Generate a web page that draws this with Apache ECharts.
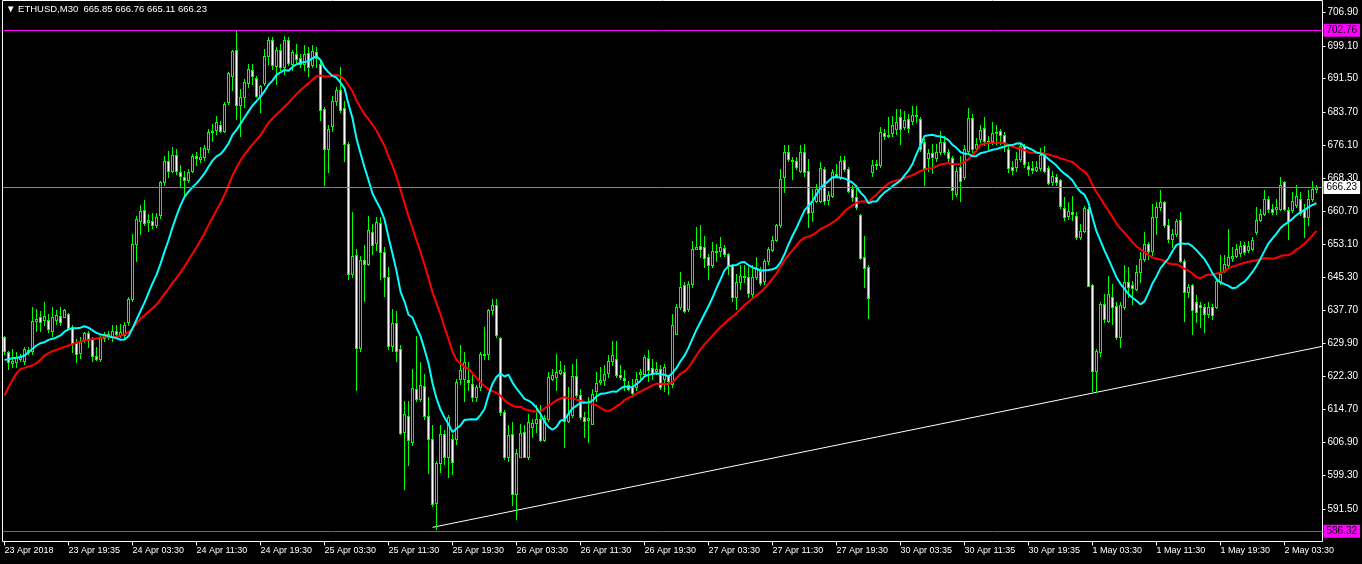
<!DOCTYPE html>
<html><head><meta charset="utf-8">
<script src="https://cdn.jsdelivr.net/npm/echarts@6/dist/echarts.min.js"></script>
<style>html,body{margin:0;padding:0;background:#000;}#c{width:1362px;height:564px;}</style>
</head><body><div id="c"></div>
<script>
const symbolName = 'ETHUSD,M30';
const tickLabels = ['23 Apr 2018','23 Apr 19:35','24 Apr 03:30','24 Apr 11:30','24 Apr 19:30','25 Apr 03:30','25 Apr 11:30','25 Apr 19:30','26 Apr 03:30','26 Apr 11:30','26 Apr 19:30','27 Apr 03:30','27 Apr 11:30','27 Apr 19:30','30 Apr 03:35','30 Apr 11:35','30 Apr 19:35','1 May 03:30','1 May 11:30','1 May 19:30','2 May 03:30'];
const priceTicks = [706.90,699.10,691.50,683.70,676.10,668.30,660.70,653.10,645.30,637.70,629.90,622.30,614.70,606.90,599.30,591.50,583.90];

const open = [
631.41,628.08,625.37,625.60,626.38,625.99,628.47,628.31,635.06,636.22,
635.52,635.52,632.96,635.44,636.45,636.22,636.84,633.74,630.02,627.69,
630.79,632.34,631.03,627.15,626.38,631.26,631.41,631.57,632.96,632.03,
632.03,634.90,640.33,653.11,658.54,661.02,658.15,658.54,657.38,659.86,
667.45,672.49,670.01,673.88,669.78,668.61,667.99,670.01,673.65,672.88,
673.42,675.20,679.08,679.62,680.63,679.46,686.05,692.25,698.07,685.28,
687.37,690.47,693.42,691.71,687.60,690.47,696.90,700.55,694.42,698.22,
694.19,700.55,694.97,697.29,696.36,694.97,697.45,694.58,697.68,694.97,
684.50,675.20,680.40,686.29,688.77,684.74,676.37,646.14,650.56,628.93,
649.39,648.47,655.83,653.27,658.00,651.33,645.52,629.25,634.75,628.70,
609.33,613.05,607.00,619.40,617.08,620.02,613.20,607.78,592.82,602.12,
608.94,603.52,607.78,607.78,621.73,621.73,621.50,620.57,617.62,619.79,
627.16,627.54,637.77,639.01,631.26,613.98,603.52,608.79,594.99,603.52,
609.33,603.52,610.49,611.42,612.43,607.55,612.43,621.73,622.12,623.05,
623.28,612.04,613.21,622.35,617.86,612.82,612.05,611.27,618.86,620.96,
621.50,623.05,625.84,626.38,622.51,621.96,620.18,619.79,619.79,622.89,
622.89,626.61,624.29,623.51,624.06,621.73,622.50,620.56,632.19,638.39,
643.66,638.00,643.81,651.95,652.57,652.49,650.17,648.31,651.18,651.41,
652.18,650.79,648.08,640.71,644.20,645.75,645.36,641.49,645.36,646.91,
644.59,649.24,651.72,654.04,657.38,668.61,674.43,672.64,672.49,670.16,
674.43,670.16,660.48,663.19,663.19,670.55,663.34,664.35,669.39,668.77,
672.64,670.55,665.90,664.12,659.93,650.01,647.84,669.78,671.71,671.33,
678.92,678.45,678.92,679.85,682.56,680.24,682.17,681.79,683.10,682.17,
676.75,673.03,674.27,673.03,674.58,676.75,674.42,673.11,664.74,670.94,
668.61,674.81,682.41,675.36,677.53,680.08,676.75,677.14,678.92,679.46,
678.45,675.20,670.94,670.94,672.88,675.97,671.17,670.70,670.39,670.70,
674.04,670.70,667.45,668.61,668.07,661.48,659.54,660.48,659.70,654.66,
656.21,661.25,643.58,623.66,627.92,639.16,635.29,640.72,638.55,631.42,
638.39,644.20,643.43,642.65,646.53,649.63,653.12,651.41,659.32,661.64,
662.80,657.61,654.28,655.44,658.70,649.24,641.88,643.43,639.56,638.78,
638.39,636.84,638.39,638.39,644.20,646.92,648.31,649.86,650.40,650.95,
652.73,651.57,651.96,655.83,658.70,660.09,663.58,661.26,661.26,661.26,
667.45,661.02,661.02,662.03,663.58,661.26,659.32,663.58,665.85];

const high = [
631.80,628.31,628.70,627.93,627.54,629.09,629.09,638.39,638.00,637.61,
639.55,636.84,638.39,637.77,638.39,638.00,636.99,634.13,631.03,631.41,
632.58,632.96,631.41,629.09,631.80,632.58,632.96,634.13,634.13,634.51,
634.90,640.71,655.44,659.70,662.03,663.42,660.09,660.24,660.24,667.84,
673.65,674.81,675.59,675.20,671.56,670.16,670.55,674.04,674.43,675.74,
675.98,679.85,681.01,682.95,681.79,686.05,693.03,698.07,702.72,689.15,
691.48,694.97,694.97,692.25,689.93,698.45,701.32,701.17,698.84,699.62,
701.55,701.32,698.07,699.62,697.29,699.23,698.84,699.23,698.84,695.74,
684.89,680.63,687.60,689.54,694.19,686.44,676.75,660.48,651.95,650.40,
652.73,659.70,657.77,659.47,659.31,652.34,647.69,638.00,637.61,629.48,
616.69,616.69,624.05,631.80,625.60,622.89,617.47,610.88,602.74,611.00,
609.72,613.21,608.94,621.73,629.48,627.93,625.61,622.51,620.41,627.93,
633.74,638.01,640.33,640.33,631.42,614.37,610.88,611.66,605.46,611.27,
610.88,613.59,612.43,615.53,615.53,613.21,623.28,624.06,627.54,625.99,
624.83,619.79,625.22,626.38,619.41,613.98,617.47,619.41,623.28,624.44,
624.83,627.16,630.64,630.64,624.83,623.67,621.34,621.73,623.28,624.06,
627.16,628.32,626.38,625.61,624.83,625.21,622.73,636.84,639.16,646.53,
644.20,644.59,653.89,656.99,657.61,655.05,650.79,653.50,653.11,654.82,
652.73,650.94,648.46,646.14,648.08,648.08,647.69,648.08,650.01,647.84,
649.63,652.34,655.05,657.76,670.55,675.98,675.98,673.27,673.27,675.98,
676.36,672.88,665.90,667.06,672.10,670.94,665.51,670.55,671.71,673.65,
673.65,670.94,666.68,666.68,660.09,655.05,648.08,672.64,672.64,680.24,
679.85,682.56,682.95,684.50,684.50,684.11,683.34,685.27,685.27,682.56,
677.52,675.20,676.36,676.36,679.46,678.30,675.20,673.65,670.94,673.65,
675.98,684.66,683.34,677.68,680.63,682.56,678.30,681.40,680.63,679.85,
679.08,675.98,672.49,674.42,676.36,676.36,672.10,672.49,672.49,675.35,
675.82,671.17,670.16,669.39,668.22,663.96,662.80,664.35,660.48,657.76,
662.02,661.64,643.81,628.70,639.55,641.49,645.75,643.82,639.56,639.56,
648.08,647.69,644.59,648.08,651.18,655.83,653.51,662.42,662.80,665.52,
663.19,658.93,656.61,658.93,660.48,649.63,643.82,643.82,641.11,639.56,
639.17,639.56,639.17,644.98,650.41,650.41,656.61,652.34,653.12,653.89,
653.51,653.74,654.67,661.64,661.26,665.52,664.35,662.42,663.58,668.62,
667.84,661.64,665.13,666.68,665.13,662.42,665.52,667.84,666.76];

const low = [
627.54,624.05,624.44,624.44,625.99,625.21,627.54,627.54,632.96,632.96,
634.13,632.58,631.80,634.51,634.13,636.06,633.35,627.93,625.60,626.61,
630.25,629.09,625.83,626.14,625.99,630.64,631.03,630.64,631.57,631.41,
631.03,634.13,639.94,649.24,655.44,657.61,656.21,656.83,656.99,659.16,
666.68,668.61,669.78,669.39,666.52,663.96,667.45,669.78,671.33,672.10,
672.64,674.43,677.14,678.69,679.08,679.08,685.67,688.77,682.18,678.30,
684.89,689.54,690.31,687.37,683.73,689.93,694.97,693.80,690.31,693.42,
692.64,694.58,693.42,694.97,694.19,693.42,692.25,694.19,694.19,681.95,
666.68,669.78,679.46,685.28,683.73,672.49,644.98,645.37,619.02,628.31,
639.94,648.08,650.79,651.57,644.98,641.10,628.70,628.31,625.83,608.94,
596.15,601.58,606.23,616.69,616.69,612.43,599.79,592.05,586.80,600.00,
601.97,598.87,599.64,606.62,620.57,616.69,619.02,616.69,616.69,619.02,
626.38,626.38,636.84,631.42,613.21,603.13,602.74,592.28,589.18,603.52,
603.52,603.13,608.17,609.33,607.39,607.39,612.04,621.50,619.02,622.89,
605.84,611.66,612.82,617.47,612.43,608.17,607.01,611.27,616.69,620.57,
620.18,622.12,624.83,622.12,621.73,619.02,619.02,618.09,619.02,621.34,
622.51,621.34,621.73,622.89,619.41,619.01,618.24,619.79,632.19,638.00,
637.23,637.61,643.04,651.80,650.01,647.69,644.98,647.69,649.24,650.40,
650.40,646.14,639.94,638.00,642.65,644.20,640.71,640.71,644.98,643.43,
643.81,648.46,651.56,653.89,656.99,665.13,672.49,668.23,670.55,669.78,
669.00,656.99,658.54,662.80,662.80,662.41,662.41,663.96,668.61,668.23,
670.16,665.13,663.19,661.25,649.63,643.04,635.91,669.00,670.55,670.94,
677.52,677.91,678.30,678.69,676.36,679.85,679.07,681.01,681.40,674.81,
666.83,670.16,669.62,672.49,674.04,674.04,672.49,663.57,664.35,663.19,
668.22,674.42,674.58,674.81,676.75,675.98,675.20,676.36,676.36,676.36,
674.81,669.93,669.39,670.16,672.49,670.94,669.15,669.62,670.16,670.39,
669.77,667.06,666.83,666.68,661.41,658.77,658.92,658.77,654.28,654.28,
655.83,643.27,619.01,618.62,627.15,634.91,634.91,634.52,631.03,629.09,
638.01,640.72,639.17,642.27,644.20,649.24,649.63,650.41,655.44,660.87,
656.99,653.50,652.34,655.05,648.85,635.29,640.72,632.19,634.91,633.74,
632.58,636.07,635.68,638.24,643.82,646.53,647.69,649.24,650.02,650.40,
650.79,651.18,651.57,655.44,658.54,659.71,660.48,660.09,660.09,661.02,
660.87,654.28,660.48,661.64,659.71,654.67,657.38,663.19,665.11];

const close = [
628.31,625.60,625.99,626.76,627.15,628.70,627.93,635.29,635.68,634.90,
636.45,633.35,636.06,636.68,634.90,637.77,633.58,630.02,627.54,630.64,
632.34,630.79,627.15,626.38,631.41,631.80,632.19,632.96,632.19,632.58,
634.36,640.33,653.11,658.93,660.86,657.92,658.69,657.38,659.31,667.45,
672.26,670.01,673.88,670.01,668.85,667.99,669.93,673.65,673.11,673.42,
675.36,679.08,679.46,681.40,679.46,685.67,692.80,697.91,685.28,687.37,
690.70,693.80,692.25,687.60,689.85,696.90,700.55,694.58,698.22,694.19,
700.55,695.12,697.68,696.13,694.97,697.29,694.19,697.91,696.36,684.27,
675.20,679.85,686.44,688.92,684.27,676.37,646.14,650.40,628.93,649.39,
648.47,656.22,652.73,658.15,651.18,645.37,629.25,634.75,628.31,609.10,
613.59,607.55,619.64,617.08,620.33,613.05,607.78,592.66,602.12,609.00,
603.52,612.82,602.36,620.96,623.67,625.61,620.96,617.62,619.79,627.39,
627.54,637.62,639.01,631.81,613.98,603.52,608.56,594.99,604.53,609.10,
603.52,611.66,611.50,612.43,607.55,612.66,622.12,622.51,623.28,623.82,
612.04,613.59,622.35,617.86,612.82,611.89,612.66,618.24,620.80,621.50,
622.74,625.84,627.16,622.51,622.12,621.50,619.41,618.40,621.73,623.28,
626.77,623.67,622.89,624.06,619.79,624.44,621.34,634.13,638.39,643.04,
637.61,643.81,651.95,652.34,651.80,649.86,648.08,651.41,651.56,652.34,
650.79,648.08,640.71,644.20,645.75,645.36,641.64,645.52,647.30,643.97,
649.24,651.95,654.04,657.38,668.23,674.43,672.88,672.34,670.94,674.43,
669.78,660.24,662.80,665.90,670.78,663.19,664.51,669.78,669.00,672.49,
670.55,665.51,663.96,661.79,649.86,647.53,640.56,671.56,671.48,679.08,
678.14,678.14,680.78,681.40,679.85,682.02,680.00,683.10,682.95,675.20,
670.70,674.27,673.26,674.58,676.75,674.42,673.03,665.74,670.16,667.84,
675.20,682.41,675.05,676.36,679.69,676.91,677.14,678.92,679.23,678.45,
676.75,670.70,670.39,672.88,675.97,671.71,670.55,670.39,671.09,673.80,
670.16,667.29,669.00,667.60,661.87,659.31,660.86,660.09,654.66,656.21,
661.48,643.42,623.66,628.31,639.16,635.68,641.49,638.39,631.42,638.78,
644.20,643.04,642.89,646.53,649.63,653.12,651.41,659.32,661.64,662.80,
657.38,654.28,655.44,658.54,649.09,641.88,643.19,637.62,637.23,638.39,
636.84,638.39,636.46,644.59,646.14,648.47,650.17,650.40,651.96,652.50,
651.18,652.50,654.05,658.70,659.94,663.58,661.26,660.48,661.64,666.91,
661.26,658.39,663.19,664.35,660.24,659.32,663.58,665.91,666.23];

// Moving-average values before a full window exists
const fastSeed = [626.14,626.30,626.53,626.61,626.76,627.15,627.93,628.70,629.48,630.02,630.25,630.79,631.03];
const slowSeed = [617.85,619.79,621.49,623.04,624.05,624.28,624.60,624.83,625.37,626.14,627.15,627.70,628.16,628.47,628.78,629.17,629.48,629.79,630.10,630.33,630.64,630.79,630.95,631.10,631.26,631.41,631.49];
const fastPeriod = 14, slowPeriod = 28;

const levelPrices = [702.76, 586.32];
const trendAnchors = [[107, 587.2], [273, 618.6]];

function sma(period, seed) {
  const out = [];
  for (let i = 0; i < close.length; i++) {
    if (i < period - 1) { out.push(seed[i]); continue; }
    let s = 0;
    for (let j = i - period + 1; j <= i; j++) s += close[j];
    out.push(+(s / period).toFixed(3));
  }
  return out;
}

const N = close.length;
const nCat = N + 1;
const categories = Array.from({length: nCat}, (_, i) => (i % 16 === 0 && tickLabels[i / 16]) ? tickLabels[i / 16] : '');
const candleData = close.map((c, i) => [i, open[i], c, low[i], high[i]]);
const last = N - 1;
const bid = close[last];

const slope = (trendAnchors[1][1] - trendAnchors[0][1]) / (trendAnchors[1][0] - trendAnchors[0][0]);
const xEnd = nCat - 0.5;
const trendData = [trendAnchors[0], [xEnd, trendAnchors[0][1] + slope * (xEnd - trendAnchors[0][0])]];

const LIME = '#00ff00';
function renderCandle(params, api) {
  const i = api.value(0), o = api.value(1), c = api.value(2), l = api.value(3), h = api.value(4);
  const pO = api.coord([i, o]), pC = api.coord([i, c]);
  const yL = Math.round(api.coord([i, l])[1]), yH = Math.round(api.coord([i, h])[1]);
  const cx = Math.floor(pO[0]);
  const top = Math.round(Math.min(pO[1], pC[1])), bot = Math.round(Math.max(pO[1], pC[1]));
  const children = [
    {type: 'rect', shape: {x: cx, y: yH, width: 1, height: Math.max(1, yL - yH + 1)}, style: {fill: LIME}},
    {type: 'rect', shape: {x: cx - 1, y: top, width: 3, height: bot - top + 1}, style: {fill: LIME}}
  ];
  if (bot - top >= 2) {
    children.push({type: 'rect', shape: {x: cx, y: top + 1, width: 1, height: bot - top - 1}, style: {fill: c >= o ? '#000' : '#fff'}});
  }
  return {type: 'group', children};
}

const FONT = 'Liberation Sans';
const chart = echarts.init(document.getElementById('c'), null, {renderer: 'canvas'});
const boxLabel = (bg) => ({
  show: true, position: 'end', distance: 1,
  formatter: p => Number(p.value).toFixed(2),
  backgroundColor: bg, color: '#000', fontSize: 10, fontFamily: FONT,
  padding: [2, 3, 1, 3]
});
chart.setOption({
  animation: false,
  backgroundColor: '#000',
  grid: {left: 2.5, top: 0.5, width: 1320, height: 541, show: true, borderColor: '#fff', borderWidth: 1, backgroundColor: '#000'},
  graphic: [{
    type: 'text', left: 6, top: 4,
    style: {
      text: '\u25BC ' + symbolName + '  ' + [open[last], high[last], low[last], close[last]].map(v => v.toFixed(2)).join(' '),
      fill: '#fff', fontSize: 9.5, fontFamily: FONT
    }
  }],
  xAxis: [{
    type: 'category', data: categories, boundaryGap: true,
    axisLine: {show: false, onZero: false},
    axisTick: {show: true, interval: 15, alignWithLabel: true, length: 4, lineStyle: {color: '#fff'}},
    axisLabel: {interval: 15, color: '#fff', fontSize: 9, fontFamily: FONT, align: 'left', margin: 5},
    splitLine: {show: false}
  }, {
    type: 'value', min: -0.5, max: nCat - 0.5, show: false,
    axisLine: {onZero: false}
  }],
  yAxis: [{
    type: 'value', position: 'right', min: 583.91, max: 709.69, scale: true,
    axisLine: {show: false, onZero: false},
    axisTick: {show: true, customValues: priceTicks, length: 3, lineStyle: {color: '#fff'}},
    axisLabel: {customValues: priceTicks, color: '#fff', fontSize: 10, fontFamily: FONT, margin: 5, formatter: v => v.toFixed(2)},
    splitLine: {show: false}
  }],
  series: [{
    type: 'line', xAxisIndex: 1, yAxisIndex: 0, data: trendData, symbol: 'none', z: 1,
    lineStyle: {color: '#fff', width: 1}, silent: true,
    markLine: {
      symbol: 'none', silent: true, animation: false,
      data: [
        {yAxis: levelPrices[0], lineStyle: {color: '#ff00ff', width: 1, type: 'solid'}, label: boxLabel('#ff00ff')},
        {yAxis: levelPrices[1], lineStyle: {color: '#ff00ff', width: 1, type: 'solid'}, label: boxLabel('#ff00ff')},
        {yAxis: bid, lineStyle: {color: '#778899', width: 1, type: 'solid'}, label: boxLabel('#ffffff')}
      ]
    }
  }, {
    type: 'custom', data: candleData, renderItem: renderCandle, z: 2, clip: true,
    encode: {x: 0, y: [1, 2, 3, 4]}
  }, {
    type: 'line', data: sma(slowPeriod, slowSeed), symbol: 'none', z: 3,
    lineStyle: {color: '#ff0000', width: 2}
  }, {
    type: 'line', data: sma(fastPeriod, fastSeed), symbol: 'none', z: 4,
    lineStyle: {color: '#00ffff', width: 2}
  }]
});
</script></body></html>
